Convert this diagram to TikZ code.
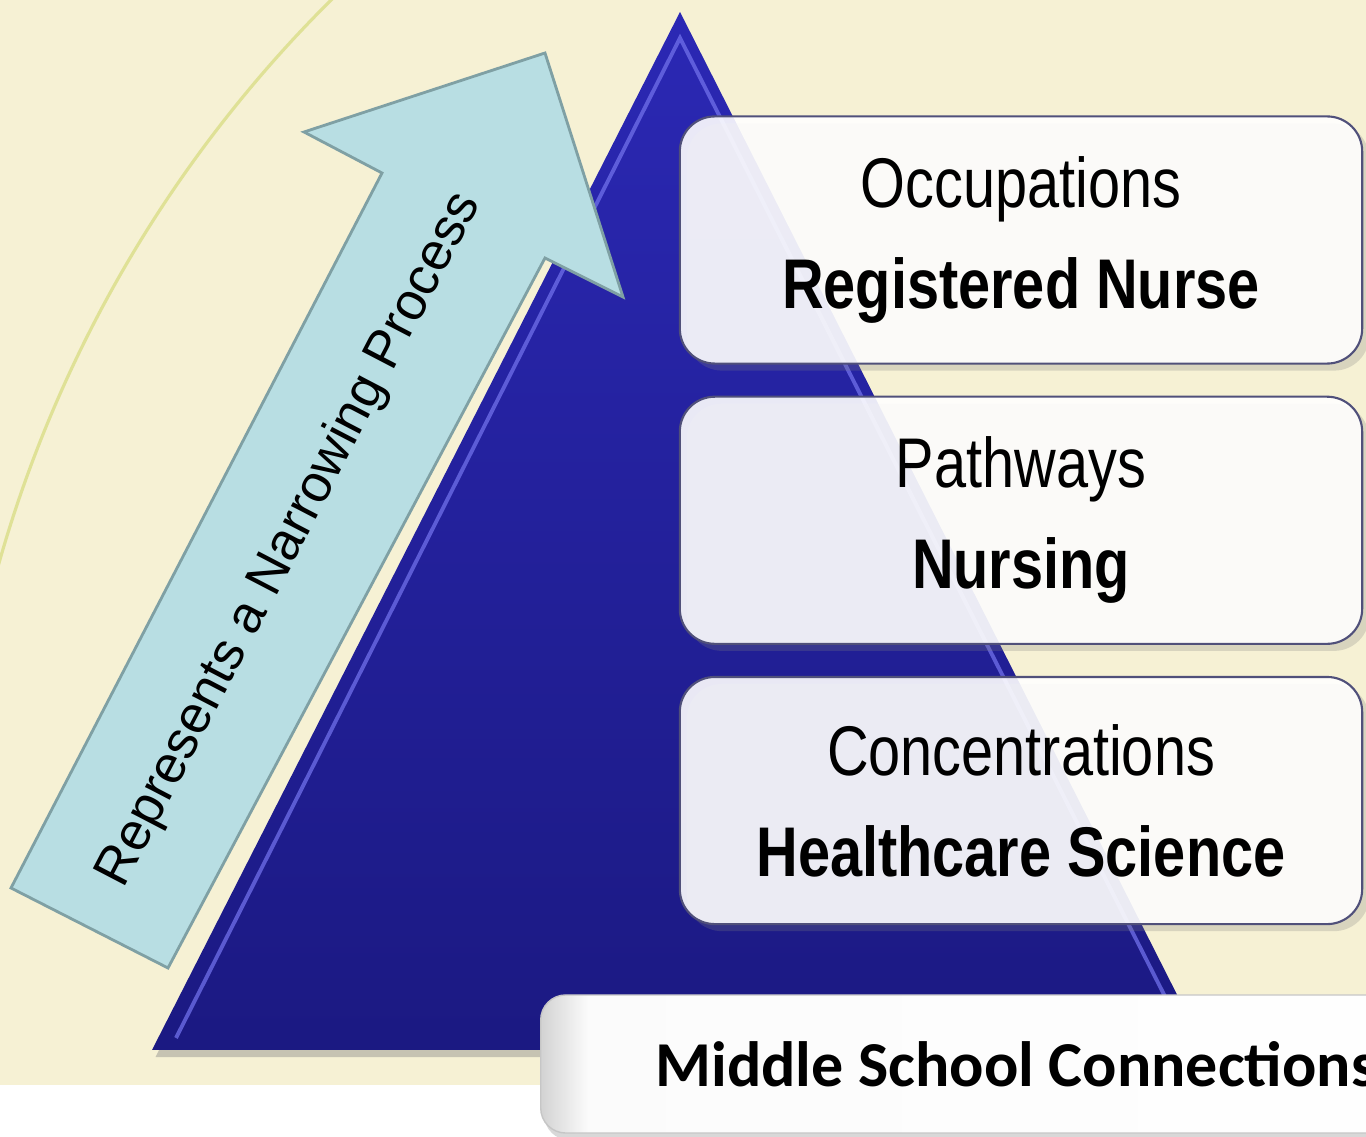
\documentclass[tikz,border=0pt]{standalone}
\usepackage{fontspec}
\setmainfont{Liberation Sans}
\newfontfamily\narrowfont[FakeStretch=0.82]{Liberation Sans}
\newfontfamily\calibrifont{Carlito}
\usetikzlibrary{positioning, shadows}

\definecolor{creambg}{HTML}{F6F1D4}
\definecolor{pyrtop}{HTML}{2B28B4}
\definecolor{pyrbot}{HTML}{1B1982}
\definecolor{bevelblue}{HTML}{7070EA}
\definecolor{arrowfill}{HTML}{B8DEE3}
\definecolor{arrowedge}{HTML}{7FA0A4}
\definecolor{arcline}{HTML}{DFE196}
\definecolor{boxedge}{HTML}{50507A}

\pgfdeclarehorizontalshading{basegrad}{100bp}{color(0bp)=(gray!35); color(25bp)=(gray!35);
    color(27.5bp)=(white!97!gray); color(75bp)=(white); color(100bp)=(white)}

\begin{document}
\begin{tikzpicture}[x=0.01cm, y=-0.01cm,
        level/.style = {
            rectangle,
            draw=boxedge,
            line width=0.6pt,
            fill=white,
            fill opacity=0.9,
            text opacity=1,
            rounded corners=0.35cm,
            minimum width=6.82cm,
            minimum height=2.47cm,
            align=center,
            font=\narrowfont\fontsize{20}{28.7}\selectfont,
            drop shadow={opacity=0.25, shadow xshift=2pt, shadow yshift=-2pt}
        },
        basebox/.style = {
            rectangle,
            draw=gray!45,
            shading=basegrad,
            rounded corners=0.25cm,
            minimum width=9.64cm,
            minimum height=1.38cm,
            font=\calibrifont\bfseries\fontsize{18.2}{22}\selectfont,
            drop shadow={opacity=0.3, shadow xshift=1pt, shadow yshift=-2pt}
        },
        arrowbody/.style = {fill=arrowfill, draw=arrowedge, line width=0.8pt, line join=miter}
    ]

    \useasboundingbox (0,0) rectangle (1366,1137);
    \clip (0,0) rectangle (1366,1137);

    % background
    \fill[white] (0,0) rectangle (1366,1137);
    \fill[creambg] (0,0) rectangle (1366,1085);
    \draw[arcline, line width=0.9pt] (1239,915) ++(230:1289) arc[start angle=230, end angle=185, radius=1289];

    % pyramid
    \path[top color=pyrtop, bottom color=pyrbot,
        drop shadow={opacity=0.4, shadow xshift=1pt, shadow yshift=-2pt}]
        (680,12) -- (1205,1050) -- (152,1050) -- cycle;
    \draw[bevelblue, line width=1.1pt, opacity=0.75] (176,1038) -- (680,38) -- (1186,1038);

    % narrowing arrow
    \draw[arrowbody] (11,888) -- (382,173) -- (304,132) -- (545,53) -- (623,297) -- (545,258) -- (168,968) -- cycle;
    \node[rotate=62.5, font=\fontsize{15}{18}\selectfont] (narrowing) at (290,540) {Represents a Narrowing Process};

    % levels
    \node[level] (occupations) at (1021,240) {Occupations\\\textbf{Registered Nurse}};
    \node[level, below=0.31cm of occupations] (pathways) {Pathways\\\textbf{Nursing}};
    \node[level, below=0.31cm of pathways] (concentrations) {Concentrations\\\textbf{Healthcare Science}};

    \node[basebox, minimum width=9.5cm] (middle) at (1016,1064) {Middle School Connections};
\end{tikzpicture}
\end{document}
